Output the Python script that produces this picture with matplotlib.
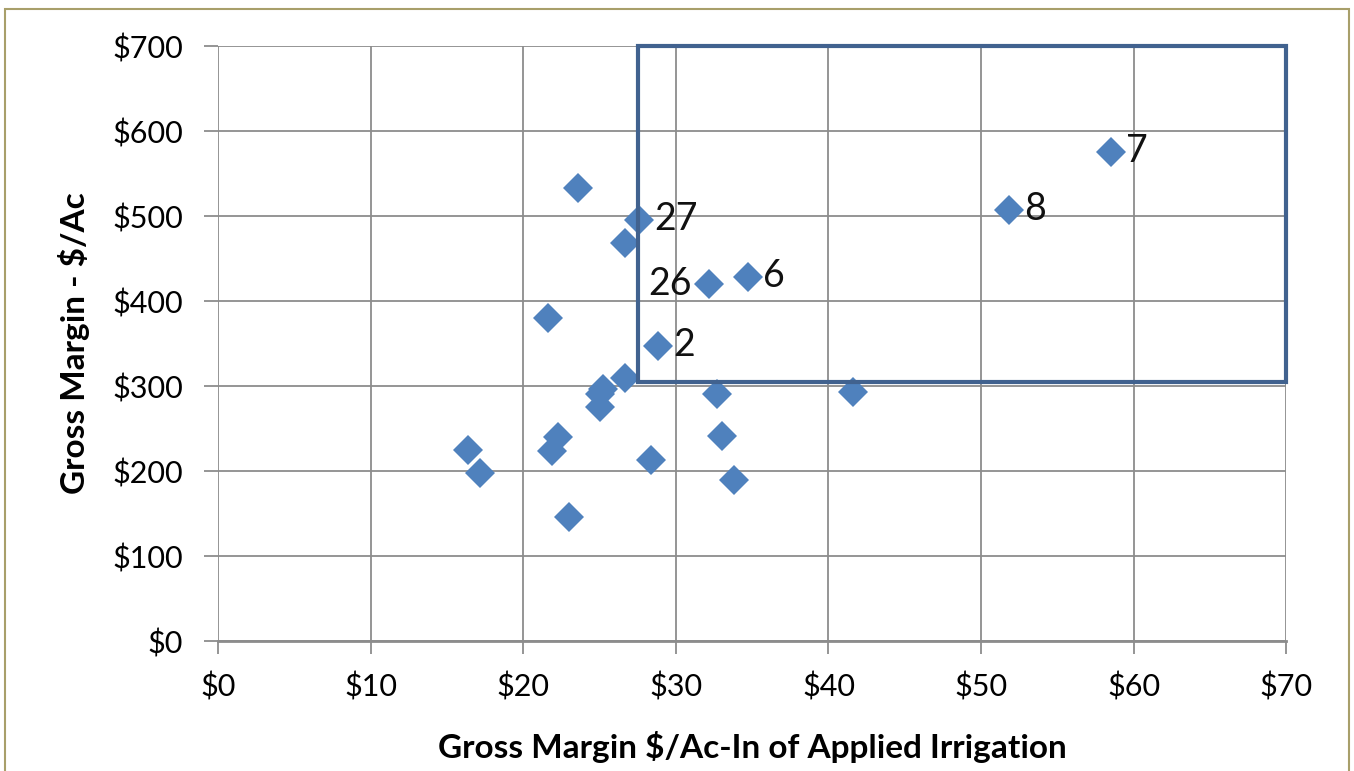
import matplotlib.pyplot as plt
from matplotlib.patches import Rectangle

# Datos
gm_in = [23.6, 27.6, 26.7, 21.6, 32.2, 34.7, 28.8, 51.8, 58.5, 26.7, 25.2, 25.0, 25.0,
         32.7, 41.6, 22.3, 21.9, 16.4, 17.2, 28.4, 33.0, 33.8, 23.0]
gm_ac = [533, 495, 468, 380, 420, 428, 347, 507, 575, 309, 297, 291, 275,
         291, 293, 240, 224, 225, 198, 213, 241, 190, 146]

etiquetas = {1: '27', 4: '26', 5: '6', 6: '2', 7: '8', 8: '7'}

# recuadro de la zona destacada
caja_x = [27.5, 70]
caja_y = [305, 700]

plt.rcParams['font.family'] = ['Lato', 'DejaVu Sans']

fig = plt.figure(figsize=(13.54, 7.71), dpi=100)
ax = fig.add_axes([0.161, 0.1686, 0.789, 0.7717])

ax.plot(gm_in, gm_ac, 'D', color='#4f81bd', markersize=15, markeredgewidth=0, zorder=3)

for i, txt in etiquetas.items():
    if txt == '26':
        ax.annotate(txt, (gm_in[i], gm_ac[i]), xytext=(-13, 0), textcoords='offset points',
                    ha='right', va='center', fontsize=27, color='#111111')
    else:
        ax.annotate(txt, (gm_in[i], gm_ac[i]), xytext=(11, 1), textcoords='offset points',
                    ha='left', va='center', fontsize=27, color='#111111')

ax.add_patch(Rectangle((caja_x[0], caja_y[0]), caja_x[1] - caja_x[0], caja_y[1] - caja_y[0],
                       fill=False, edgecolor='#41628f', linewidth=3, zorder=4, clip_on=False))

ax.set_xlim(0, 70)
ax.set_ylim(0, 700)
ax.set_xticks(range(0, 71, 10))
ax.set_yticks(range(0, 701, 100))
ax.set_xticklabels(['$%d' % v for v in range(0, 71, 10)])
ax.set_yticklabels(['$%d' % v for v in range(0, 701, 100)])
ax.grid(True, color='#8c8c8c', linewidth=1.3)
ax.set_axisbelow(True)
for s in ['top', 'right', 'left']:
    ax.spines[s].set_visible(False)
ax.spines['bottom'].set_color('#8c8c8c')
ax.spines['bottom'].set_linewidth(2)
ax.tick_params(axis='x', direction='out', length=9, width=1.3, color='#8c8c8c',
               labelsize=22, pad=14)
ax.tick_params(axis='y', direction='out', length=10, width=1.3, color='#8c8c8c',
               labelsize=22, pad=15)

ax.set_xlabel('Gross Margin $/Ac-In of Applied Irrigation', fontsize=24, fontweight='bold',
              labelpad=21)
ax.set_ylabel('Gross Margin - $/Ac', fontsize=24, fontweight='bold', labelpad=16)

fig.patches.append(Rectangle((0.004, -0.01), 0.992, 0.998, transform=fig.transFigure,
                             fill=False, edgecolor='#a89f6a', linewidth=1.5))

fig.savefig('out.png', dpi=100)
